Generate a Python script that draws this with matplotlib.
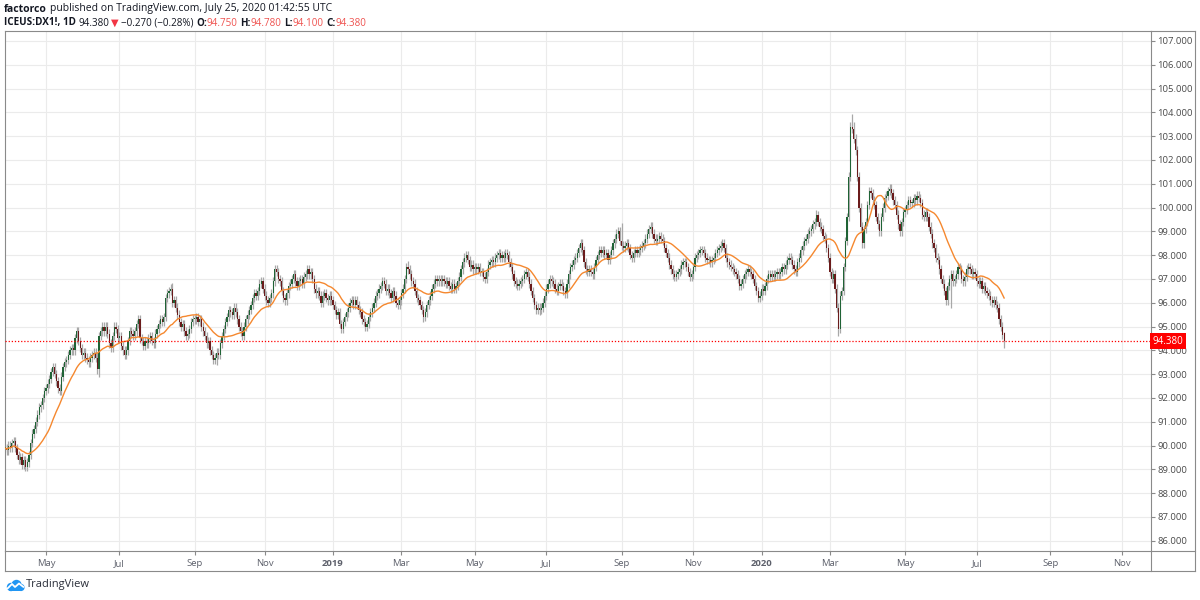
import matplotlib
matplotlib.use("Agg")
import matplotlib.pyplot as plt
import numpy as np
import pandas as pd
from matplotlib.lines import Line2D
from matplotlib.patches import Circle, Rectangle
from pandas.tseries.holiday import USFederalHolidayCalendar

# ICEUS:DX1! daily closes (one row per month)
close_2018 = [
    89.9, 89.8, 90.0,
    89.9, 90.1, 90.2, 89.9, 89.6, 89.4, 89.5, 89.2, 89.4, 89.1, 89.3, 89.6, 90.1, 90.5, 90.7, 91.0, 91.3, 91.6, 91.7, 92.0, 92.3,
    92.4, 92.6, 92.8, 93.1, 93.3, 93.0, 92.7, 92.4, 92.3, 92.9, 93.3, 93.5, 93.6, 93.8, 94.0, 94.1, 94.0, 94.5, 94.8, 94.4, 94.1, 93.8,
    93.9, 93.7, 93.6, 93.5, 93.7, 93.8, 93.9, 93.7, 93.2, 94.6, 94.8, 95.0, 94.8, 95.0, 94.7, 94.3, 94.1, 94.6, 95.0, 94.9, 94.5,
    94.6, 94.2, 94.0, 93.8, 94.0, 94.4, 94.8, 94.7, 94.6, 94.8, 95.1, 95.3, 94.5, 94.4, 94.2, 94.4, 94.3, 94.5, 94.6, 94.4, 94.3,
    94.7, 94.9, 95.1, 95.3, 95.2, 95.4, 96.2, 96.4, 96.5, 96.6, 96.0, 96.1, 95.8, 95.5, 95.2, 95.0, 95.1, 94.8, 94.6, 94.7, 94.9, 95.2, 95.3,
    95.3, 95.4, 95.2, 95.3, 95.0, 94.8, 94.6, 94.3, 94.4, 94.0, 93.8, 93.6, 93.7, 93.9, 93.8, 94.3, 94.6, 94.9, 95.2,
    95.4, 95.7, 95.6, 95.5, 95.8, 95.6, 95.3, 95.0, 94.8, 94.6, 95.0, 95.3, 95.5, 95.7, 95.9, 96.2, 96.4, 96.3, 96.5, 96.8, 96.9, 96.6,
    96.3, 96.1, 96.0, 96.2, 96.4, 96.9, 97.4, 97.3, 97.0, 96.9, 96.5, 96.2, 96.1, 96.4, 96.7, 96.8, 97.0, 97.2, 96.9, 96.7,
    96.9, 97.0, 96.8, 97.1, 97.2, 97.4, 97.2, 97.3, 97.0, 96.6, 96.4, 96.5, 96.3, 96.0, 96.3, 96.4, 96.2, 96.1, 96.3, 96.1,
]
close_2019 = [
    95.9, 95.7, 95.5, 95.6, 95.1, 94.9, 95.2, 95.4, 95.6, 95.8, 96.0, 96.1, 95.9, 96.1, 95.9, 95.7, 95.6, 95.3, 95.2, 95.0, 95.1,
    95.4, 95.6, 95.8, 96.0, 96.3, 96.4, 96.6, 96.7, 96.9, 96.8, 96.5, 96.6, 96.4, 96.2, 96.5, 96.3, 96.0, 95.9, 96.1,
    96.4, 96.6, 97.0, 97.5, 97.4, 97.2, 96.9, 96.8, 96.5, 96.2, 96.1, 95.9, 95.7, 95.4, 95.6, 95.9, 96.1, 96.3, 96.6, 96.8, 97.0,
    96.9, 97.0, 96.9, 97.0, 96.9, 96.8, 96.9, 96.7, 96.6, 96.8, 96.6, 96.7, 96.9, 97.1, 97.4, 97.7, 97.9, 98.0, 97.8, 97.5, 97.6, 97.4,
    97.5, 97.4, 97.5, 97.3, 97.3, 97.1, 97.0, 97.3, 97.6, 97.7, 97.8, 97.7, 97.9, 98.0, 98.1, 97.9, 98.0, 97.9, 98.1, 98.0, 97.7, 97.5,
    97.2, 96.9, 96.8, 96.7, 96.8, 96.9, 97.0, 97.2, 97.3, 97.1, 96.8, 96.5, 96.2, 95.9, 95.7, 95.8, 95.7, 95.8, 96.0, 96.3,
    96.6, 96.8, 97.0, 96.9, 96.8, 96.6, 96.5, 96.7, 96.8, 96.7, 96.5, 96.4, 96.8, 97.2, 97.5, 97.6, 97.8, 97.9, 98.1, 98.3, 98.5, 98.2,
    97.7, 97.4, 97.3, 97.4, 97.3, 97.2, 97.5, 97.8, 98.0, 98.2, 98.1, 98.2, 98.0, 98.1, 97.8, 98.0, 98.2, 98.5, 98.7, 98.9, 99.0, 98.6,
    98.4, 98.3, 98.4, 98.5, 98.3, 98.0, 97.9, 98.1, 98.2, 98.1, 98.2, 98.3, 98.4, 98.5, 98.7, 98.9, 99.1, 99.2, 98.9, 98.7,
    98.6, 98.7, 98.8, 98.7, 98.6, 98.3, 98.1, 97.9, 97.6, 97.4, 97.2, 97.1, 97.2, 97.3, 97.4, 97.6, 97.7, 97.7, 97.5, 97.3, 97.1, 97.2,
    97.5, 97.9, 98.0, 98.1, 98.2, 98.2, 98.1, 97.9, 97.8, 97.8, 97.7, 97.8, 97.9, 98.1, 98.2, 98.3, 98.4, 98.5, 98.3,
    97.9, 97.7, 97.6, 97.5, 97.4, 97.3, 97.2, 97.0, 96.7, 96.8, 97.0, 97.2, 97.3, 97.4, 97.3, 97.2, 97.0, 96.7, 96.5, 96.2, 96.3,
]
close_2020 = [
    96.6, 96.5, 96.7, 97.0, 97.2, 97.1, 97.2, 97.1, 97.2, 97.3, 97.2, 97.3, 97.5, 97.4, 97.6, 97.8, 97.9, 97.8, 97.6, 97.4, 97.3,
    97.7, 97.9, 98.2, 98.4, 98.6, 98.7, 98.9, 99.0, 99.1, 99.3, 99.4, 99.7, 99.4, 99.2, 99.1, 98.8, 98.7, 98.3, 97.9,
    97.3, 97.0, 97.2, 96.6, 95.8, 94.9, 96.3, 96.5, 97.5, 98.6, 99.6, 101.3, 103.4, 103.3, 102.9, 102.4, 101.3, 100.0, 99.2, 98.5, 99.1, 99.4,
    100.1, 100.7, 100.6, 100.3, 100.1, 99.6, 99.3, 99.0, 99.6, 100.0, 100.4, 100.5, 100.7, 100.8, 100.6, 100.3, 100.1, 99.7, 99.3, 99.0, 99.4, 99.8,
    99.9, 100.1, 100.3, 100.2, 100.2, 100.4, 100.3, 100.5, 100.4, 100.2, 99.7, 99.6, 99.8, 99.6, 99.2, 98.9, 98.5, 98.3, 97.9, 97.8,
    97.4, 97.0, 96.8, 96.5, 96.1, 96.7, 97.0, 97.2, 96.9, 97.0, 97.2, 97.5, 97.4, 97.0, 96.9, 97.1, 97.4, 97.5, 97.4, 97.2, 97.3, 97.2,
    96.9, 96.8, 96.9, 96.6, 96.7, 96.5, 96.4, 96.3, 96.1, 96.0, 96.1, 95.9, 95.8, 95.3, 95.0, 94.65, 94.38,
]

# last bar from the header line
last_open, last_high, last_low = 94.75, 94.78, 94.10
# wick extremes that stand out on the chart
high_marks = {"2018-08-15": 96.85, "2018-11-12": 97.55, "2019-03-07": 97.75,
              "2019-09-03": 99.35, "2020-02-20": 99.85, "2020-03-19": 103.95,
              "2020-03-20": 103.6}
low_marks = {"2018-04-13": 88.95, "2018-06-14": 92.9, "2018-09-21": 93.4,
             "2019-03-20": 95.2, "2019-06-25": 95.5, "2020-03-09": 94.6,
             "2020-06-10": 95.8}

W, H = 1200, 600
fig = plt.figure(figsize=(12, 6), dpi=100)
fig.patch.set_facecolor("white")
FONT = ["Open Sans", "DejaVu Sans"]


def fx(x):
    return x / W


def fy(y):
    return 1 - y / H


ax = fig.add_axes([fx(5), fy(551), fx(1151) - fx(5), fy(31) - fy(551)])

# trading calendar
hol = USFederalHolidayCalendar().holidays("2018-01-01", "2020-12-31")
days = pd.bdate_range("2018-03-28", "2020-12-31", freq="C", holidays=hol)
closes = np.array(close_2018 + close_2019 + close_2020)
n = len(closes)
n_trade = int((days <= pd.Timestamp("2020-07-24")).sum())
pos = np.arange(n_trade - n, n_trade)
dates = days[pos]

opens = np.concatenate([[closes[0]], closes[:-1]])
opens[-1] = last_open
WICK = 0.18
highs = np.maximum(opens, closes) + WICK
lows = np.minimum(opens, closes) - WICK
highs[-1], lows[-1] = last_high, last_low
dstr = [d.strftime("%Y-%m-%d") for d in dates]
for k, s in enumerate(dstr):
    if s in high_marks:
        highs[k] = high_marks[s]
    if s in low_marks:
        lows[k] = low_marks[s]

up = closes >= opens
body = closes - opens
body = np.where(np.abs(body) < 0.04, 0.04, body)

ax.vlines(pos, lows, highs, color="#a8a8a8", lw=0.9, zorder=2)
ax.bar(pos, body, bottom=opens, width=0.72,
       color=np.where(up, "#1f6335", "#6a1b1b"), linewidth=0, zorder=3)

ma = pd.Series(closes).rolling(20, min_periods=1).mean()
ax.plot(pos, ma, color="#f5882f", lw=1.0, zorder=4)

ax.axhline(closes[-1], color="#ff0000", lw=0.9, ls=(0, (1, 1.5)), zorder=5)

ax.set_xlim(pos[0], pos[0] + 671)
ax.set_ylim(85.57, 107.42)

# month ticks (odd months, year on January)
s = pd.Series(np.arange(len(days)), index=days)
firsts = s.groupby([days.year, days.month]).first()
tick_pos, tick_lab = [], []
for (yr, mo), p in firsts.items():
    if mo % 2 == 1 and pos[0] < p < pos[0] + 671:
        tick_pos.append(p)
        tick_lab.append(str(yr) if mo == 1 else pd.Timestamp(yr, mo, 1).strftime("%b"))
ax.set_xticks(tick_pos)
ax.set_xticklabels(tick_lab)
for lab in ax.get_xticklabels():
    lab.set_family(FONT)
    if lab.get_text().isdigit():
        lab.set_fontweight("bold")
        lab.set_color("#3a3a3a")

levels = np.arange(86, 108)
ax.set_yticks(levels)
ax.set_yticklabels([f"{v:.3f}" for v in levels], family=FONT)
ax.yaxis.tick_right()
ax.tick_params(axis="x", length=3, width=0.8, color="#8a8a8a", pad=2.5,
               labelsize=6.8, labelcolor="#5d606b")
ax.tick_params(axis="y", length=3, width=0.8, color="#8a8a8a", pad=1.5,
               labelsize=6.8, labelcolor="#4a4a4a")
ax.grid(True, color="#ebebeb", lw=0.8, zorder=0)
ax.set_axisbelow(True)
for sp in ax.spines.values():
    sp.set_color("#8a8a8a")
    sp.set_linewidth(0.8)

# last price tag on the scale
ax.text(1.0012, closes[-1], f"{closes[-1]:.3f}", transform=ax.get_yaxis_transform(),
        ha="left", va="center", color="white", fontsize=7, family=FONT,
        bbox=dict(boxstyle="square,pad=0.25", fc="#ff0000", ec="none"),
        clip_on=False, zorder=10)

# outer frame of the chart
frame = [((1151, 31), (1195, 31)), ((1195, 31), (1195, 571)),
         ((5, 571), (1195, 571)), ((5, 551), (5, 571)), ((1151, 551), (1195, 551)),
         ((1151, 551), (1151, 571))]
for (x0, y0), (x1, y1) in frame:
    fig.add_artist(Line2D([fx(x0), fx(x1)], [fy(y0), fy(y1)], color="#8a8a8a",
                          lw=0.8, transform=fig.transFigure))

# header lines
renderer = fig.canvas.get_renderer()


def chain(x, y, pieces, size=7.5):
    for gap, txt, color, weight in pieces:
        x += gap
        t = fig.text(fx(x), fy(y), txt, color=color, fontweight=weight,
                     fontsize=size, family=FONT, ha="left", va="center")
        x = t.get_window_extent(renderer).x1


DARK = "#131722"
RED = "#ef5350"
chain(4, 9, [(0, "factorco", DARK, "bold"),
             (3, "published on TradingView.com, July 25, 2020 01:42:55 UTC", DARK, "normal")])
chain(4, 23, [(0, "ICEUS:DX1!, 1D", DARK, "bold"),
              (3, "94.380", DARK, "normal"),
              (1.5, "\u25bc", "#f23645", "normal"),
              (2, "\u22120.270 (\u22120.28%)", DARK, "normal"),
              (2.5, "O:", DARK, "bold"), (0, "94.750", RED, "normal"),
              (2.5, "H:", DARK, "bold"), (0, "94.780", RED, "normal"),
              (2.5, "L:", DARK, "bold"), (0, "94.100", RED, "normal"),
              (2.5, "C:", DARK, "bold"), (0, "94.380", RED, "normal")], size=7.1)

# TradingView logo
lax = fig.add_axes([fx(5), fy(593), fx(20), fy(578) - fy(593)])
lax.set_xlim(0, 20)
lax.set_ylim(0, 15)
lax.axis("off")
for cx, cy, r in [(6, 6, 4.2), (11.5, 8, 5.2), (16, 5.5, 3.6)]:
    lax.add_patch(Circle((cx, cy), r, color="#2196f3", lw=0))
lax.add_patch(Rectangle((4, 1.8), 13, 4, color="#2196f3", lw=0))
lax.plot([2.5, 7, 10, 14, 18.5], [4.5, 9, 6, 9.5, 6], color="white", lw=1.3,
         solid_capstyle="round")
fig.text(fx(26), fy(585), "TradingView", fontsize=8, color="#2a2e39",
         family=FONT, ha="left", va="center")

fig.savefig("out.png", dpi=100, facecolor="white")
